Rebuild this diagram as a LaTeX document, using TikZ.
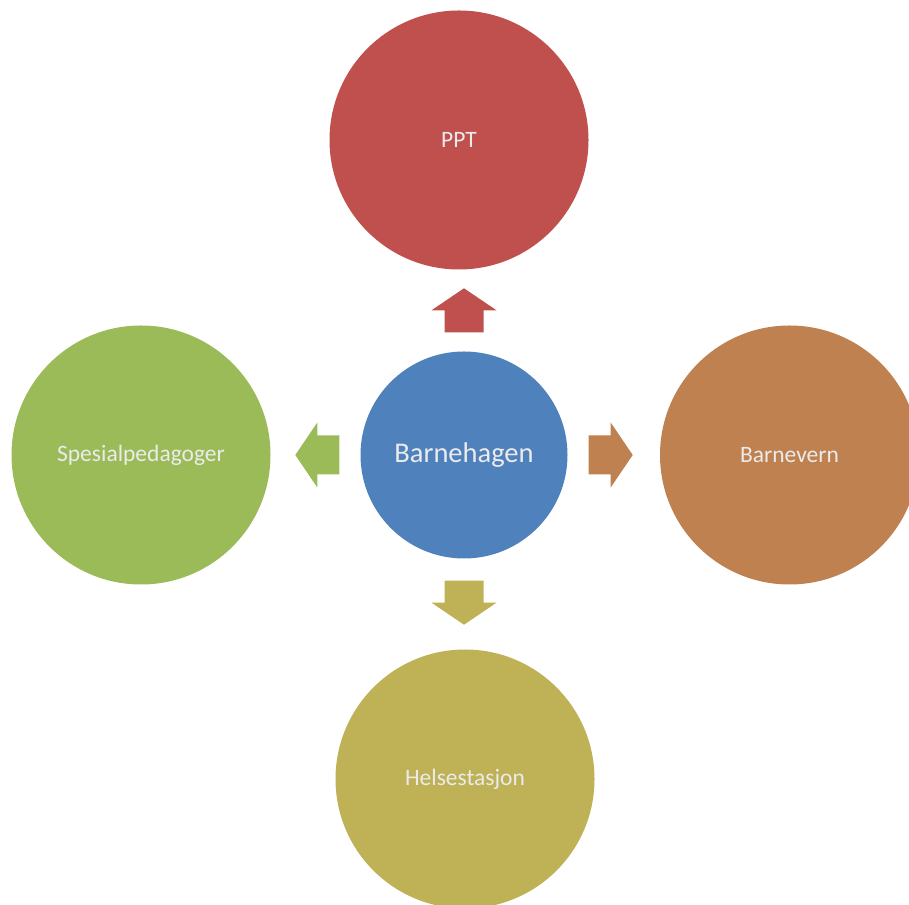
\documentclass[tikz,border=0pt]{standalone}
\usepackage{fontspec}
\setmainfont{Carlito}

\definecolor{hubblue}{HTML}{4F81BD}
\definecolor{pptred}{HTML}{C0504D}
\definecolor{vernorange}{HTML}{BF8150}
\definecolor{pedgreen}{HTML}{9BBB59}
\definecolor{helseolive}{HTML}{BFB256}

\begin{document}
\begin{tikzpicture}
    [x=1pt,y=1pt,
     circlestyle/.style={circle,inner sep=0pt,minimum size=259pt,text=white!92!black,
                         font=\fontsize{23.5}{27}\selectfont},
     hubstyle/.style={circlestyle,minimum size=207pt,
                      font=\fontsize{28.5}{32}\selectfont},
     blockarrow/.pic={\fill[pic actions] (0,-19.5) -- (22,-19.5) -- (22,-32.5)
                      -- (44,0) -- (22,32.5) -- (22,19.5) -- (0,19.5) -- cycle;}]

    \useasboundingbox (0,0) rectangle (909,904);
    \clip (0,0) rectangle (909,904);

    \node[hubstyle,fill=hubblue] (hub) at (464,449) {Barnehagen};

    \node[circlestyle,fill=pptred]     (ppt)   at (459,764)   {PPT};
    \node[circlestyle,fill=vernorange] (vern)  at (789.5,449) {Barnevern};
    \node[circlestyle,fill=pedgreen]   (ped)   at (141,449)   {Spesialpedagoger};
    \node[circlestyle,fill=helseolive] (helse) at (465,125)   {Helsestasjon};

    \pic[fill=pptred,rotate=90]       at ([yshift=19pt]hub.north)  {blockarrow};
    \pic[fill=vernorange]             at ([xshift=21pt]hub.east)   {blockarrow};
    \pic[fill=pedgreen,rotate=180]    at ([xshift=-21pt]hub.west)  {blockarrow};
    \pic[fill=helseolive,rotate=-90]  at ([yshift=-22pt]hub.south) {blockarrow};
  \end{tikzpicture}
\end{document}
